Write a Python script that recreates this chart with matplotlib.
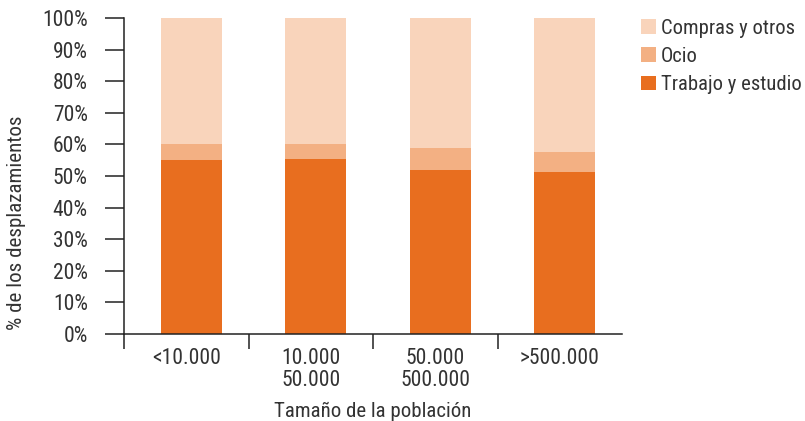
import numpy as np
import matplotlib.pyplot as plt
from matplotlib import font_manager
from matplotlib.patches import Patch

# ── Data ──────────────────────────────────────────────────────────────────────
CATEGORIES = ["<10.000", "10.000\n50.000", "50.000\n500.000", ">500.000"]
TRABAJO = [55.1, 55.4, 52.0, 51.4]
OCIO = [4.9, 4.6, 6.8, 6.2]
COMPRAS = [40.0, 40.0, 41.2, 42.4]
SERIES = ["Trabajo y estudio", "Ocio", "Compras y otros"]
COLORS = ["#E86E1F", "#F3B083", "#F9D4BB"]
Y_TICKS = list(range(0, 101, 10))

# ── Font: prefer a condensed face when one is installed ──────────────────────
names = {f.name for f in font_manager.fontManager.ttflist}
family = [n for n in ["Roboto Condensed", "Liberation Sans Narrow", "Roboto"] if n in names][:1]
plt.rcParams["font.family"] = family + ["DejaVu Sans"]
TXT = "#333333"

fig = plt.figure(figsize=(8.05, 4.21), dpi=100)
ax = fig.add_axes([124 / 805, 1 - 334 / 421, (622 - 124) / 805, (334 - 18) / 421])

x = np.arange(len(CATEGORIES))
bx = x + 0.04
w = 0.49
bottom = np.zeros(len(CATEGORIES))
for vals, name, col in zip([TRABAJO, OCIO, COMPRAS], SERIES, COLORS):
    ax.bar(bx, vals, w, bottom=bottom, color=col, label=name, linewidth=0)
    bottom += np.array(vals)

ax.set_xlim(-0.5, len(CATEGORIES) - 0.5)
ax.set_ylim(0, 100)
ax.set_yticks(Y_TICKS)
ax.set_yticklabels([f"{v}%" for v in Y_TICKS], fontsize=15.5, color=TXT)
ax.set_xticks(x)
ax.set_xticklabels(CATEGORIES, fontsize=15.5, color=TXT, linespacing=1.05)
ax.set_xticks(np.arange(len(CATEGORIES)) - 0.5, minor=True)
ax.tick_params(axis="x", which="major", length=0, pad=10)
ax.tick_params(axis="x", which="minor", length=11, width=1.1, color="#222222")
ax.tick_params(axis="y", length=14, width=1.1, color="#222222", pad=12)

for s in ["top", "right"]:
    ax.spines[s].set_visible(False)
for s in ["left", "bottom"]:
    ax.spines[s].set_color("#222222")
    ax.spines[s].set_linewidth(1.1)

ax.set_xlabel("Tamaño de la población", fontsize=15, color=TXT, labelpad=8)
ax.set_ylabel("% de los desplazamientos", fontsize=15.1, color=TXT)
ax.yaxis.set_label_coords(-0.197, 0.351)

handles = [Patch(facecolor=c, edgecolor="none") for c in COLORS[::-1]]
fig.legend(handles, SERIES[::-1], loc="upper left", bbox_to_anchor=(641 / 805, 1 - 19 / 421),
           frameon=False, fontsize=14.9, handlelength=0.72, handleheight=0.72,
           handletextpad=0.25, labelspacing=0.44, borderaxespad=0, borderpad=0,
           labelcolor=TXT)

fig.savefig("out.png", dpi=100)
